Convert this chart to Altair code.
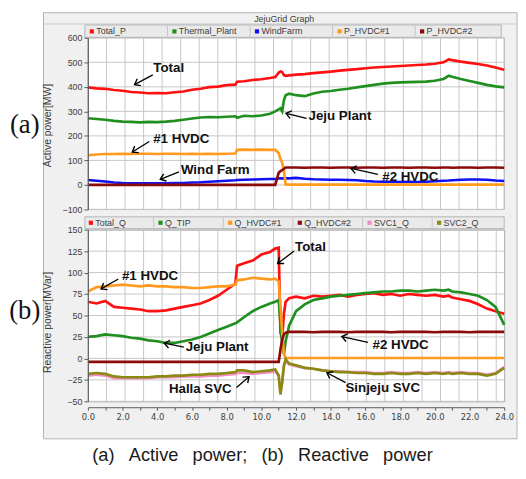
import math
import altair as alt
import pandas as pd

# ---------------- data ----------------
T = [0.0, 0.5, 1.0, 1.5, 2.0, 2.5, 3.0, 3.5, 4.0, 4.5, 5.0, 5.5, 6.0, 6.5, 7.0, 7.5, 8.0, 8.5,
     8.6, 9.0, 9.5, 10.0, 10.5,
     10.8, 11.0, 11.1, 11.2, 11.3, 11.4, 11.6,
     12.0, 12.5, 13.0, 13.5, 14.0, 14.5, 15.0, 15.5, 16.0, 16.5, 17.0, 17.5, 18.0, 18.5, 19.0, 19.5, 20.0, 20.5,
     20.8, 21.0, 21.5, 22.0, 22.5, 23.0, 23.5, 24.0]

# Active power [MW]
total_p = [398, 394, 392, 387, 384, 379, 377, 374, 375, 374, 378, 381, 388, 392, 399, 401, 407, 409,
           421, 423, 428, 431, 436,
           440, 458, 463, 460, 448, 445, 447,
           450, 452, 456, 459, 462, 466, 469, 472, 476, 479, 481, 483, 485, 487, 489, 491, 494, 500,
           512, 509, 503, 498, 493, 487, 479, 470]
thermal_plant = [272, 269, 266, 261, 258, 257, 255, 257, 256, 258, 261, 266, 271, 275, 277, 276, 278, 280,
                 274, 282, 280, 283, 290,
                 300, 308, 312, 300, 345, 366, 372,
                 366, 362, 373, 380, 383, 388, 392, 398, 403, 408, 413, 416, 418, 419, 420, 421, 425, 432,
                 445, 441, 432, 424, 416, 408, 402, 398]
wind_farm = [20, 17, 14, 10, 8, 7, 7, 6, 7, 7, 8, 8, 10, 11, 13, 15, 17, 19,
             20, 21, 22, 23, 24,
             24, 26, 27, 27, 26, 27, 27,
             29, 25, 23, 22, 21, 21, 20, 19, 16, 14, 13, 13, 12, 13, 12, 13, 15, 17,
             18, 19, 21, 22, 22, 21, 18, 16]
p_hvdc1 = [121, 124, 126, 126, 127, 126, 127, 127, 126, 127, 127, 126, 127, 126, 127, 126, 127, 128,
           143, 144, 143, 144, 143,
           143, 130, 107, 90, 60, 2, 1,
           1, 1, 1, 1, 1, 1, 1, 1, 1, 1, 1, 1, 1, 1, 1, 1, 1, 1,
           1, 1, 1, 1, 1, 1, 1, 1]
p_hvdc2 = [0, 0, 0, 0, 0, 0, 0, 0, 0, 0, 0, 0, 0, 0, 0, 0, 0, 0,
           0, 0, 0, 0, 0,
           0, 50, 56, 60, 66, 71, 71,
           71, 70, 71, 71, 70, 71, 71, 70, 71, 71, 70, 71, 71, 70, 71, 71, 70, 71,
           71, 70, 71, 71, 70, 71, 71, 70]

# Reactive power [MVar]
total_q = [66, 64, 67, 60, 59, 58, 57, 55, 55, 56, 58, 60, 62, 64, 68, 73, 80, 87,
           108, 111, 114, 121, 124,
           128, 129, 30, 22, 52, 66, 70,
           72, 70, 73, 72, 73, 74, 72, 74, 75, 76, 74, 75, 73, 75, 74, 73, 74, 72,
           73, 71, 69, 67, 63, 58, 55, 52]
q_tip = [25, 26, 28, 27, 26, 24, 23, 21, 20, 18, 18, 20, 22, 25, 29, 33, 37, 41,
         42, 48, 55, 60, 64,
         66, 68, 40, 18, 5, 20, 38,
         55, 63, 68, 70, 72, 73, 74, 75, 76, 77, 78, 78, 79, 79, 78, 79, 80, 79,
         80, 78, 77, 75, 73, 68, 60, 39]
q_hvdc1 = [78, 83, 84, 85, 86, 85, 84, 85, 84, 84, 83, 83, 82, 82, 83, 84, 84, 86,
           91, 92, 94, 93, 92,
           93, 90, 62, 30, 5, 0.5, 0.5,
           0.5, 0.5, 0.5, 0.5, 0.5, 0.5, 0.5, 0.5, 0.5, 0.5, 0.5, 0.5, 0.5, 0.5, 0.5, 0.5, 0.5, 0.5,
           0.5, 0.5, 0.5, 0.5, 0.5, 0.5, 0.5, 0.5]
q_hvdc2 = [-4, -4, -4, -4, -4, -4, -4, -4, -4, -4, -4, -4, -4, -4, -4, -4, -4, -4,
           -4, -4, -4, -4, -4,
           -4, -4, 10, 22, 28, 30, 31,
           31, 31, 30.5, 31, 31, 31, 30.5, 31, 31, 31, 31, 30.5, 31, 31, 31, 31, 30.5, 31,
           31, 31, 31, 30.5, 31, 31, 31, 31]
svc1_q = [-20, -19, -20, -23, -23, -23, -23, -23, -22, -22, -22, -21, -21, -21, -20, -20, -19, -18,
          -17, -17, -18, -17, -16,
          -15, -20, -40, -28, -9, -3, -7,
          -9, -11, -12, -14, -15, -15, -16, -16, -16, -17, -17, -16, -17, -17, -16, -17, -16, -17,
          -16, -17, -16, -17, -17, -19, -17, -10]
svc2_q = [-18, -17, -18, -21, -22, -22, -22, -22, -21, -21, -20, -20, -19, -19, -18, -18, -17, -16,
          -14, -14, -16, -15, -14,
          -13, -20, -42, -28, -8, -1, -6,
          -8, -11, -12, -14, -15, -16, -16, -17, -17, -18, -18, -17, -18, -18, -17, -18, -17, -18,
          -17, -18, -17, -18, -18, -20, -18, -11]

names_a = ["Total_P", "Thermal_Plant", "WindFarm", "P_HVDC#1", "P_HVDC#2"]
colors_a = ["#ff1010", "#1f8f1f", "#1010f0", "#ff9a1f", "#8b0a0a"]
values_a = [total_p, thermal_plant, wind_farm, p_hvdc1, p_hvdc2]

names_b = ["Total_Q", "Q_TIP", "Q_HVDC#1", "Q_HVDC#2", "SVC1_Q", "SVC2_Q"]
colors_b = ["#ff1010", "#1f8f1f", "#ff9a1f", "#8b0a0a", "#f48cc4", "#8a8a12"]
values_b = [total_q, q_tip, q_hvdc1, q_hvdc2, svc1_q, svc2_q]

# annotations: text, text pos (t, v), arrow start (t, v), arrow tip (t, v)
ann_a_text = ["Total", "#1 HVDC", "Wind Farm", "Jeju Plant", "#2 HVDC"]
ann_a_tx = [4.66, 5.38, 7.34, 14.53, 18.59]
ann_a_tv = [475, 188, 60, 282, 33]
ann_a_x1 = [3.74, 3.54, 5.25, 12.61, 16.72]
ann_a_v1 = [449, 177, 53, 271, 43]
ann_a_x2 = [2.69, 2.56, 4.17, 11.42, 15.17]
ann_a_v2 = [409, 134, 23, 292, 67]

ann_b_text = ["Total", "#1 HVDC", "Jeju Plant", "Halla SVC", "#2 HVDC", "Sinjeju SVC"]
ann_b_tx = [12.83, 3.58, 7.45, 6.48, 18.03, 17.0]
ann_b_tv = [129.7, 96.3, 13.2, -35.9, 15.9, -34.7]
ann_b_x1 = [11.89, 1.75, 5.53, 8.57, 16.15, 14.86]
ann_b_v1 = [125.1, 92.5, 13.2, -33.9, 18.6, -28.2]
ann_b_x2 = [10.94, 0.76, 4.40, 9.29, 14.64, 13.78]
ann_b_v2 = [110.6, 81.0, 17.8, -21.3, 25.5, -16.7]

# ---------------- layout / style ----------------
W, H = 422, 174
XD = [0, 24]
YA_D = [-100, 600]
YB_D = [-50, 150]
SX = W / (XD[1] - XD[0])
SY_A = H / (YA_D[1] - YA_D[0])
SY_B = H / (YB_D[1] - YB_D[0])

NARROW = "Liberation Sans Narrow, Arial Narrow, Liberation Sans, sans-serif"
SANS = "Liberation Sans, Arial, sans-serif"
AXC = "#5a5a5a"
LBC = "#3c3c3c"

grid_x = [round(i * 1.07, 3) for i in range(23)]
grid_ya = [-100, 0, 100, 200, 300, 400, 500, 600]
grid_yb = [-50, -25, 0, 25, 50, 75, 100, 125, 150]

XS = alt.Scale(domain=XD, nice=False, zero=False)
YAS = alt.Scale(domain=YA_D, nice=False, zero=False)
YBS = alt.Scale(domain=YB_D, nice=False, zero=False)


def y_axis(values, title, title_y):
    return alt.Axis(values=values, grid=False, tickSize=4, labelPadding=2,
                    domainColor=AXC, tickColor=AXC, labelColor=LBC,
                    labelFont=NARROW, labelFontSize=9,
                    title=title, titleFont=NARROW, titleFontSize=10.5,
                    titleFontWeight="normal", titleColor=LBC,
                    titleX=-41, titleY=title_y, titleAngle=270,
                    titleAlign="center", titleBaseline="middle", zindex=1)


AX_YA = y_axis(grid_ya, "Active power[MW]", 88.5)
AX_YB = y_axis(grid_yb, "Reactive power[MVar]", 93.5)
AX_XB = alt.Axis(values=list(range(25)), grid=False, offset=6, tickSize=3,
                 labelExpr="datum.value % 2 == 0 ? format(datum.value, '.1f') : ''",
                 labelOverlap=False, labelFlush=False, labelPadding=2,
                 domainColor=AXC, tickColor=AXC, labelColor=LBC,
                 labelFont="DejaVu Sans", labelFontSize=8.5, title=None, zindex=1)


def xa(field):
    return alt.X(f"{field}:Q", scale=XS, axis=None)


def xb(field):
    return alt.X(f"{field}:Q", scale=XS, axis=AX_XB)


def ya(field):
    return alt.Y(f"{field}:Q", scale=YAS, axis=AX_YA)


def yb(field):
    return alt.Y(f"{field}:Q", scale=YBS, axis=AX_YB)


DUMMY = pd.DataFrame({"d": [0]})


def box(x, x2, y, y2, fill, stroke=None):
    kw = dict(fill=fill)
    if stroke:
        kw.update(stroke=stroke, strokeWidth=1)
    return alt.Chart(DUMMY).mark_rect(**kw).encode(
        x=alt.value(x), x2=alt.value(x2), y=alt.value(y), y2=alt.value(y2))


def hline(x, x2, y, color):
    return alt.Chart(DUMMY).mark_rule(color=color, strokeWidth=1).encode(
        x=alt.value(x), x2=alt.value(x2), y=alt.value(y))


def vline(x, y, y2, color):
    return alt.Chart(DUMMY).mark_rule(color=color, strokeWidth=1).encode(
        x=alt.value(x), y=alt.value(y), y2=alt.value(y2))


def label(txt, x, y, **kw):
    return alt.Chart(DUMMY).mark_text(text=txt, **kw).encode(x=alt.value(x), y=alt.value(y))


def legend_layers(names, colors, x0, step, y, strip):
    out = [box(*strip, fill="#eaeaea", stroke="#b4b4b4")]
    for k in range(1, len(names)):
        out.append(vline(x0 - 7 + step * k, strip[2] + 1, strip[3] - 1, "#c4c4c4"))
    for k, (n, c) in enumerate(zip(names, colors)):
        out.append(alt.Chart(DUMMY).mark_square(color=c, size=18, opacity=1).encode(
            x=alt.value(x0 + step * k), y=alt.value(y)))
        out.append(label(n, x0 + 4.5 + step * k, y, align="left", baseline="middle",
                         font=NARROW, fontSize=9, color=LBC))
    return out


def annotation_layers(texts, tx, tv, x1, v1, x2, v2, sy, xenc, yenc):
    ang = [math.degrees(math.atan2(-(b2 - b1) * sy, (a2 - a1) * SX)) % 360
           for a1, b1, a2, b2 in zip(x1, v1, x2, v2)]
    df = pd.DataFrame({"text": texts, "tx": tx, "tv": tv, "x1": x1, "v1": v1,
                       "x2": x2, "v2": v2, "ang": ang})
    base = alt.Chart(df)
    rules = base.mark_rule(color="black", strokeWidth=1.3).encode(
        x=xenc("x1"), y=yenc("v1"), x2="x2:Q", y2="v2:Q")
    heads = base.mark_point(shape="M -1 -0.75 L 0 0 L -1 0.75", filled=False,
                            color="black", strokeWidth=1.4, size=110, opacity=1).encode(
        x=xenc("x2"), y=yenc("v2"), angle=alt.Angle("ang:Q", scale=None))
    texts_m = base.mark_text(font=SANS, fontWeight="bold", fontSize=13.5, color="#111",
                             align="center", baseline="middle").encode(
        x=xenc("tx"), y=yenc("tv"), text="text:N")
    return [rules, heads, texts_m]


def series_layers(names, colors, values, xenc, yenc):
    out = []
    for n, c, v in zip(names, colors, values):
        df = pd.DataFrame({"t": T, "v": v})
        out.append(alt.Chart(df).mark_line(color=c, strokeWidth=2.7, interpolate="linear").encode(
            x=xenc("t"), y=yenc("v")))
    return out


def grid_layers(gy, xenc, yenc):
    gx_df = pd.DataFrame({"gx": grid_x})
    gy_df = pd.DataFrame({"gy": gy})
    return [
        alt.Chart(gx_df).mark_rule(color="#c6c6c6", strokeWidth=1).encode(x=xenc("gx")),
        alt.Chart(gy_df).mark_rule(color="#c6c6c6", strokeWidth=1).encode(y=yenc("gy")),
    ]


# ---------------- panel (a) ----------------
layers_a = [
    box(-78, 432, -22.5, 440.5, fill="white"),               # page extent
    box(-45, 435, -25.5, 406.5, fill="#f0f0f0", stroke="#b4b4b4"),  # window
    hline(-45, 435, -14, "#c8c8c8"),
    label("JejuGrid Graph", 199, -19.5, font=NARROW, fontSize=9, color=LBC,
          align="center", baseline="middle"),
    box(0, W, 0, H, fill="white", stroke="#a8a8a8"),
]
layers_a += grid_layers(grid_ya, xa, ya)
layers_a += series_layers(names_a, colors_a, values_a, xa, ya)
layers_a += annotation_layers(ann_a_text, ann_a_tx, ann_a_tv, ann_a_x1, ann_a_v1,
                              ann_a_x2, ann_a_v2, SY_A, xa, ya)
layers_a += legend_layers(names_a, colors_a, 4, 83.7, -6.5, (-3, 419, -13, -0.5))
layers_a.append(label("(a)", -64, 88, font="Liberation Serif, serif", fontSize=27,
                      color="#111", align="center", baseline="middle"))

panel_a = alt.layer(*layers_a).properties(width=W, height=H)

# ---------------- panel (b) ----------------
GAP = "\u00a0\u2002"
layers_b = []
layers_b += grid_layers(grid_yb, xb, yb)
layers_b += series_layers(names_b, colors_b, values_b, xb, yb)
layers_b += annotation_layers(ann_b_text, ann_b_tx, ann_b_tv, ann_b_x1, ann_b_v1,
                              ann_b_x2, ann_b_v2, SY_B, xb, yb)
layers_b += legend_layers(names_b, colors_b, 3, 70.6, -7, (-3, 422, -13, -1))
layers_b.append(label("(b)", -64, 83, font="Liberation Serif, serif", fontSize=27,
                      color="#111", align="center", baseline="middle"))
layers_b.append(label(GAP.join(["(a)", "Active", "power;", "(b)", "Reactive", "power"]),
                      177, 228, font=SANS, fontSize=18.5, color="#1a1a1a",
                      align="center", baseline="middle"))

panel_b = alt.layer(*layers_b).properties(width=W, height=H)

chart = alt.vconcat(panel_a, panel_b, spacing=20.5, bounds="flush").properties(
    padding=0, background="white"
).configure_view(fill="white", stroke="#a8a8a8")

chart.save("out.html", embed_options={"renderer": "svg", "actions": False})
